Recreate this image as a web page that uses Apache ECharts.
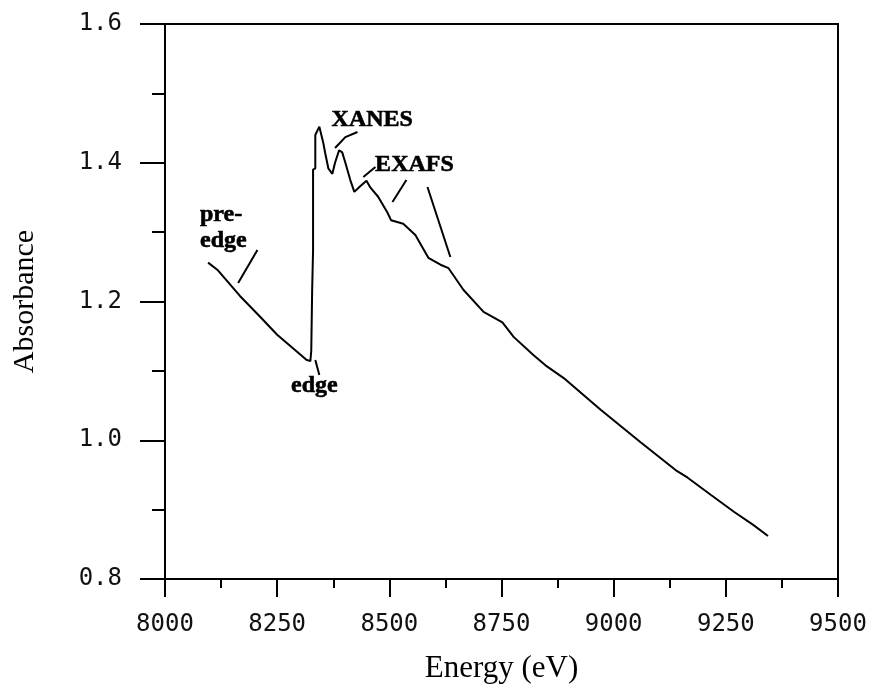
<!DOCTYPE html>
<html>
<head>
<meta charset="utf-8">
<script src="https://cdn.jsdelivr.net/npm/echarts@6/dist/echarts.min.js"></script>
<style>
  html, body { margin: 0; padding: 0; background: #fff; }
  #chart { width: 879px; height: 698px; }
</style>
</head>
<body>
<div id="chart"></div>
<script>
// X-ray absorption spectrum: energy (eV) vs absorbance
const energy = [
  8096, 8118, 8167, 8212, 8250, 8308, 8315, 8324, 8326, 8328, 8330, 8330,
  8335, 8335, 8344, 8353, 8357, 8364, 8373, 8379, 8388, 8395, 8402, 8413,
  8422, 8435, 8449, 8458, 8475, 8496, 8504, 8531, 8558, 8587, 8614, 8632,
  8665, 8710, 8752, 8777, 8821, 8848, 8888, 8971, 9060, 9138, 9165, 9217,
  9268, 9311, 9344
];
const absorbance = [
  1.256, 1.245, 1.208, 1.178, 1.152, 1.120, 1.116, 1.114, 1.129, 1.217, 1.274, 1.390,
  1.392, 1.440, 1.452, 1.428, 1.414, 1.392, 1.384, 1.400, 1.418, 1.415, 1.400, 1.375,
  1.358, 1.366, 1.374, 1.364, 1.351, 1.328, 1.317, 1.312, 1.296, 1.263, 1.253, 1.248,
  1.217, 1.185, 1.170, 1.149, 1.123, 1.108, 1.090, 1.044, 0.997, 0.957, 0.946, 0.921,
  0.897, 0.878, 0.862
];

// Axis ticks
const xTicks = { min: 8000, max: 9500, step: 250 };
const yTicks = { min: 0.8, max: 1.6, step: 0.2 };

// Region labels: text and anchor (energy, absorbance)
const labelTexts = ['pre-\nedge', 'edge', 'XANES', 'EXAFS'];
const labelEnergy = [8078, 8333, 8462, 8556];
const labelAbs = [1.306, 1.078, 1.4616, 1.3968];
const labelAlign = ['left', 'center', 'center', 'center'];

// Pointer strokes from labels to the spectrum
const pointers = [
  [[8206, 1.2742], [8163, 1.2267]],
  [[8335, 1.1157], [8344, 1.094]],
  [[8429, 1.4443], [8402, 1.437], [8379, 1.4213]],
  [[8469, 1.3939], [8442, 1.3795]],
  [[8538, 1.3751], [8507, 1.3434]],
  [[8585, 1.365], [8636, 1.2642]]
];

const tickFont = '"DejaVu Sans Mono", "Liberation Mono", monospace';
const serif = '"Liberation Serif", "Times New Roman", serif';

const spectrum = energy.map((e, i) => [e, absorbance[i]]);

const pointerSeries = pointers.map(p => ({
  type: 'line',
  data: p,
  symbol: 'none',
  silent: true,
  lineStyle: { color: '#000', width: 2 },
  z: 3
}));

const labelSeries = {
  type: 'scatter',
  symbolSize: 0,
  silent: true,
  itemStyle: { color: '#000', opacity: 1 },
  data: labelTexts.map((t, i) => ({
    value: [labelEnergy[i], labelAbs[i]],
    name: t,
    label: { align: labelAlign[i] }
  })),
  label: {
    show: true,
    position: 'inside',
    formatter: p => p.name,
    fontFamily: serif,
    fontWeight: 'bold',
    fontSize: 24,
    lineHeight: 26,
    color: '#000',
    opacity: 1,
    textBorderColor: '#000',
    textBorderWidth: 0.6,
    verticalAlign: 'middle'
  },
  z: 4
};

const chart = echarts.init(document.getElementById('chart'));
chart.setOption({
  animation: false,
  backgroundColor: '#fff',
  grid: {
    left: 165, right: 41, top: 24, bottom: 119,
    show: true, borderColor: '#000', borderWidth: 2,
    containLabel: false
  },
  xAxis: {
    type: 'value',
    min: xTicks.min, max: xTicks.max, interval: xTicks.step,
    name: 'Energy (eV)',
    nameLocation: 'middle',
    nameGap: 74,
    nameTextStyle: { fontFamily: serif, fontSize: 31, color: '#000' },
    axisLine: { lineStyle: { color: '#000', width: 2 } },
    axisTick: { show: true, inside: false, length: 18, lineStyle: { color: '#000', width: 2 } },
    minorTick: { show: true, splitNumber: 2, length: 9, lineStyle: { color: '#000', width: 2 } },
    axisLabel: {
      margin: 34, fontFamily: tickFont, fontSize: 24, color: '#111',
      formatter: v => String(v)
    },
    splitLine: { show: false }
  },
  yAxis: {
    type: 'value',
    min: yTicks.min, max: yTicks.max, interval: yTicks.step,
    name: 'Absorbance',
    nameLocation: 'middle',
    nameGap: 125,
    nameRotate: 90,
    nameTextStyle: { fontFamily: serif, fontSize: 30, color: '#000' },
    axisLine: { lineStyle: { color: '#000', width: 2 } },
    axisTick: { show: true, inside: false, length: 25, lineStyle: { color: '#000', width: 2 } },
    minorTick: { show: true, splitNumber: 2, length: 13, lineStyle: { color: '#000', width: 2 } },
    axisLabel: {
      margin: 43, fontFamily: tickFont, fontSize: 24, color: '#111',
      formatter: v => v.toFixed(1)
    },
    splitLine: { show: false }
  },
  series: [
    {
      type: 'line',
      data: spectrum,
      symbol: 'none',
      silent: true,
      lineStyle: { color: '#000', width: 2 },
      z: 3
    },
    ...pointerSeries,
    labelSeries
  ]
});
</script>
</body>
</html>
